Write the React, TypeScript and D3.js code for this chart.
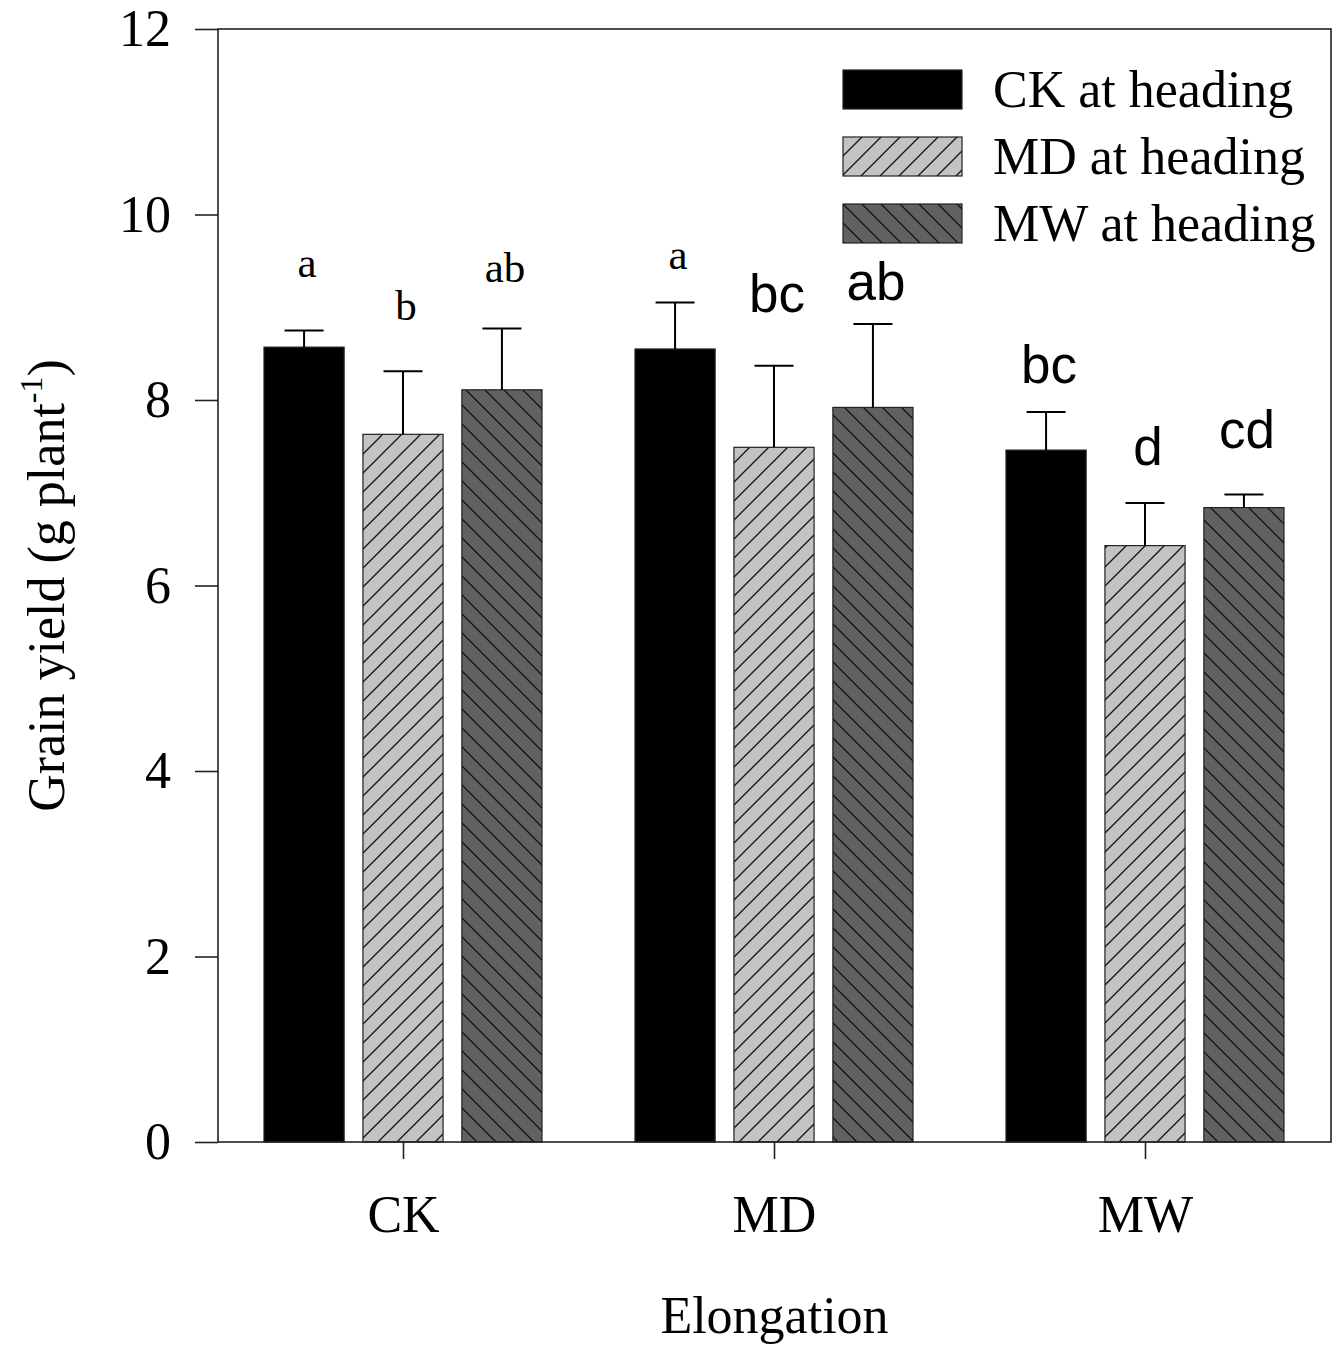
import React, { useRef, useEffect } from 'react';
import * as d3 from 'd3';

const categories = ['CK', 'MD', 'MW'];
const seriesNames = ['CK at heading', 'MD at heading', 'MW at heading'];

// mean grain yield per category, one array per series
const ckValues = [8.57, 8.55, 7.46];
const mdValues = [7.63, 7.49, 6.43];
const mwValues = [8.11, 7.92, 6.84];

// top of error bar (mean + SE)
const ckErr = [8.75, 9.05, 7.87];
const mdErr = [8.31, 8.37, 6.89];
const mwErr = [8.77, 8.82, 6.98];

// significance letters and the value their baseline sits at
const ckLetters = ['a', 'a', 'bc'];
const mdLetters = ['b', 'bc', 'd'];
const mwLetters = ['ab', 'ab', 'cd'];
const ckLetterY = [9.33, 9.41, 8.18];
const mdLetterY = [8.86, 8.95, 7.3];
const mwLetterY = [9.27, 9.08, 7.48];
// first group labels were set in serif, the rest in sans
const ckLetterSerif = [true, true, false];
const mdLetterSerif = [true, false, false];
const mwLetterSerif = [true, false, false];

const yTicks = [0, 2, 4, 6, 8, 10, 12];

const App = () => {
  const d3Container = useRef(null);

  useEffect(() => {
    const svg = d3.select(d3Container.current);
    svg.selectAll('*').remove();

    const left = 218;
    const right = 1331;
    const top = 29;
    const bottom = 1142;
    const serif = '"Liberation Serif", "Times New Roman", serif';
    const sans = '"Liberation Sans", Arial, sans-serif';

    const series = [
      { name: seriesNames[0], values: ckValues, err: ckErr, letters: ckLetters, ly: ckLetterY, serif: ckLetterSerif, fill: '#000000' },
      { name: seriesNames[1], values: mdValues, err: mdErr, letters: mdLetters, ly: mdLetterY, serif: mdLetterSerif, fill: 'url(#hatchMD)' },
      { name: seriesNames[2], values: mwValues, err: mwErr, letters: mwLetters, ly: mwLetterY, serif: mwLetterSerif, fill: 'url(#hatchMW)' },
    ];

    // hatch patterns
    const defs = svg.append('defs');
    const s = 19;
    const md = defs
      .append('pattern')
      .attr('id', 'hatchMD')
      .attr('patternUnits', 'userSpaceOnUse')
      .attr('width', s)
      .attr('height', s);
    md.append('rect').attr('width', s).attr('height', s).attr('fill', '#c3c3c3');
    md.append('path')
      .attr('d', `M0,${s} L${s},0 M${-s / 2},${s / 2} L${s / 2},${-s / 2} M${s / 2},${s * 1.5} L${s * 1.5},${s / 2}`)
      .attr('stroke', '#111')
      .attr('stroke-width', 1.3);
    const mw = defs
      .append('pattern')
      .attr('id', 'hatchMW')
      .attr('patternUnits', 'userSpaceOnUse')
      .attr('width', s)
      .attr('height', s);
    mw.append('rect').attr('width', s).attr('height', s).attr('fill', '#616161');
    mw.append('path')
      .attr('d', `M0,0 L${s},${s} M${-s / 2},${s / 2} L${s / 2},${s * 1.5} M${s / 2},${-s / 2} L${s * 1.5},${s / 2}`)
      .attr('stroke', '#111')
      .attr('stroke-width', 1.3);

    // Scales
    const x = d3.scaleBand().domain(categories).range([left, right]);
    const xInner = d3
      .scaleBand()
      .domain(seriesNames)
      .range([46, 324])
      .paddingInner(0.19)
      .paddingOuter(0);
    const y = d3.scaleLinear().domain([0, 12]).range([bottom, top]);

    // bars, error bars, letters
    series.forEach((ser) => {
      const g = svg.append('g');
      categories.forEach((c, i) => {
        const bx = x(c) + xInner(ser.name);
        const bw = xInner.bandwidth();
        const cx = bx + bw / 2;
        g.append('rect')
          .attr('x', bx)
          .attr('y', y(ser.values[i]))
          .attr('width', bw)
          .attr('height', y(0) - y(ser.values[i]))
          .attr('fill', ser.fill)
          .attr('stroke', '#222')
          .attr('stroke-width', 1.2);
        g.append('line')
          .attr('x1', cx)
          .attr('x2', cx)
          .attr('y1', y(ser.values[i]))
          .attr('y2', y(ser.err[i]))
          .attr('stroke', '#000')
          .attr('stroke-width', 2);
        g.append('line')
          .attr('x1', cx - 19.5)
          .attr('x2', cx + 19.5)
          .attr('y1', y(ser.err[i]))
          .attr('y2', y(ser.err[i]))
          .attr('stroke', '#000')
          .attr('stroke-width', 2);
        const isSerif = ser.serif[i];
        g.append('text')
          .attr('x', cx + 3)
          .attr('y', y(ser.ly[i]))
          .attr('text-anchor', 'middle')
          .attr('font-family', isSerif ? serif : sans)
          .attr('font-size', isSerif ? 43 : 53)
          .text(ser.letters[i]);
      });
    });

    // frame
    svg
      .append('rect')
      .attr('x', left)
      .attr('y', top)
      .attr('width', right - left)
      .attr('height', bottom - top)
      .attr('fill', 'none')
      .attr('stroke', '#222')
      .attr('stroke-width', 1.6);

    // Axes
    const yAxis = d3.axisLeft(y).tickValues(yTicks).tickSize(23).tickPadding(24).tickFormat((d) => d);
    const yAxisGroup = svg.append('g').attr('transform', `translate(${left},0)`).call(yAxis);
    yAxisGroup.select('.domain').remove();
    yAxisGroup.selectAll('line').attr('stroke', '#222').attr('stroke-width', 1.6);
    yAxisGroup
      .selectAll('text')
      .attr('font-family', serif)
      .attr('font-size', 52)
      .attr('fill', '#000');

    const xAxis = d3.axisBottom(x).tickSize(17).tickPadding(36);
    const xAxisGroup = svg.append('g').attr('transform', `translate(0,${bottom})`).call(xAxis);
    xAxisGroup.select('.domain').remove();
    xAxisGroup.selectAll('line').attr('stroke', '#222').attr('stroke-width', 1.6);
    xAxisGroup
      .selectAll('text')
      .attr('font-family', serif)
      .attr('font-size', 52)
      .attr('fill', '#000');

    // axis titles
    svg
      .append('text')
      .attr('x', (left + right) / 2)
      .attr('y', 1333)
      .attr('text-anchor', 'middle')
      .attr('font-family', serif)
      .attr('font-size', 52)
      .text('Elongation');

    const yTitle = svg
      .append('text')
      .attr('transform', `translate(64,${(top + bottom) / 2}) rotate(-90)`)
      .attr('text-anchor', 'middle')
      .attr('font-family', serif)
      .attr('font-size', 52);
    yTitle.append('tspan').text('Grain yield (g plant');
    yTitle.append('tspan').attr('font-size', 32).attr('dy', -22).text('-1');
    yTitle.append('tspan').attr('dy', 22).text(')');

    // legend
    const legend = svg.append('g').attr('transform', 'translate(843,70)');
    series.forEach((ser, i) => {
      const row = legend.append('g').attr('transform', `translate(0,${i * 67})`);
      row
        .append('rect')
        .attr('width', 119)
        .attr('height', 39)
        .attr('fill', ser.fill)
        .attr('stroke', '#222')
        .attr('stroke-width', 1.2);
      row
        .append('text')
        .attr('x', 150)
        .attr('y', 37)
        .attr('font-family', serif)
        .attr('font-size', 52)
        .text(ser.name);
    });
  }, []);

  return (
    <svg
      ref={d3Container}
      width={1338}
      height={1348}
      style={{ position: 'absolute', left: 0, top: 0, background: '#fff' }}
    />
  );
};

export default App;
